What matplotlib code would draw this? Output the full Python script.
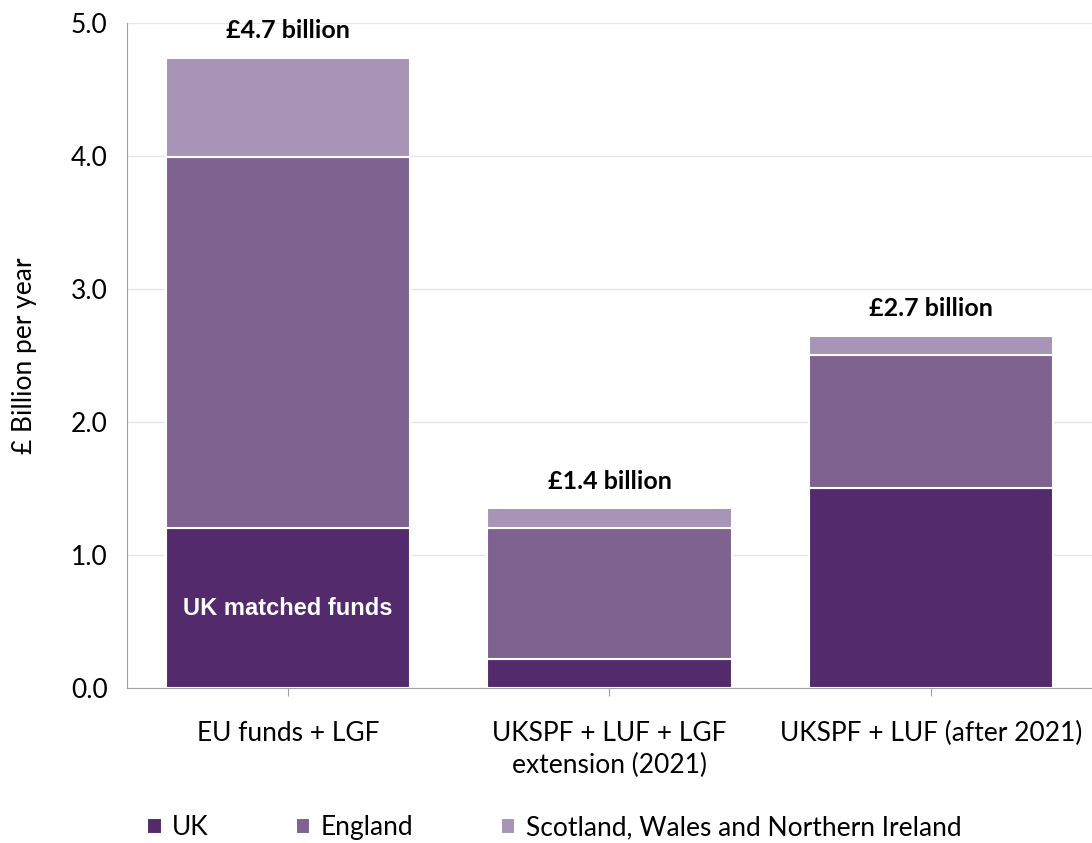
import matplotlib.pyplot as plt

categories = ["EU funds + LGF", "UKSPF + LUF + LGF\nextension (2021)", "UKSPF + LUF (after 2021)"]
uk = [1.2, 0.22, 1.5]
england = [2.79, 0.98, 1.0]
swni = [0.75, 0.15, 0.15]
totals = ["£4.7 billion", "£1.4 billion", "£2.7 billion"]
series_names = ["UK", "England", "Scotland, Wales and Northern Ireland"]

plt.rcParams['font.family'] = ['Lato', 'DejaVu Sans']

fig = plt.figure(figsize=(10.92, 8.43), dpi=100)
ax = fig.add_axes([0.1163, 0.1839, 0.8837, 0.7888])

x = range(len(categories))
w = 0.76
b1 = ax.bar(x, uk, w, color="#532A6B", edgecolor="white", linewidth=1.5, label=series_names[0], zorder=3)
b2 = ax.bar(x, england, w, bottom=uk, color="#7E6290", edgecolor="white", linewidth=1.5, label=series_names[1], zorder=3)
bottom3 = [a + b for a, b in zip(uk, england)]
b3 = ax.bar(x, swni, w, bottom=bottom3, color="#A794B6", edgecolor="white", linewidth=1.5, label=series_names[2], zorder=3)

# totals above each bar
for i, t in enumerate(totals):
    top = bottom3[i] + swni[i]
    ax.annotate(t, (i, top), xytext=(0, 11), textcoords="offset points",
                ha="center", va="bottom", fontsize=18, fontweight="bold")

ax.text(0, 0.6, "UK matched funds", color="white", ha="center", va="center",
        fontsize=17, fontweight="bold", family="Liberation Sans", zorder=4)

ax.set_ylim(0, 5.0)
ax.set_xlim(-0.5, 2.5)
ax.set_yticks([0, 1, 2, 3, 4, 5])
ax.set_yticklabels(["0.0", "1.0", "2.0", "3.0", "4.0", "5.0"], fontsize=19)
ax.set_xticks(list(x))
ax.set_xticklabels(categories, fontsize=19, linespacing=1.35)
ax.tick_params(axis="y", length=0, pad=14)
ax.tick_params(axis="x", length=6, color="#A0A0A0", pad=18)
ax.set_ylabel("£ Billion per year", fontsize=19, labelpad=24)

ax.grid(axis="y", color="#E6E6E6", linewidth=1, zorder=0)
for s in ["top", "right"]:
    ax.spines[s].set_visible(False)
ax.spines["left"].set_color("#A0A0A0")
ax.spines["bottom"].set_color("#A0A0A0")

fig.legend(handles=[b1, b2, b3], loc="center left", bbox_to_anchor=(0.113, 0.018), ncol=3,
           frameon=False, fontsize=19, handlelength=0.55, handleheight=0.55,
           handletextpad=0.4, columnspacing=3.3)

plt.savefig("out.png", dpi=100)
plt.close()
